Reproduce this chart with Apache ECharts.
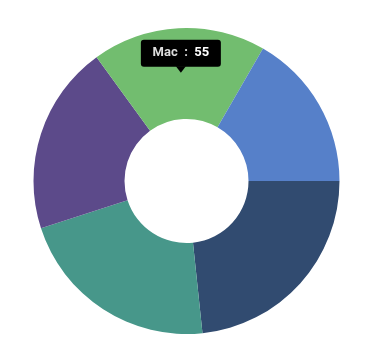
<!DOCTYPE html>
<html>
<head>
<meta charset="utf-8">
<script src="https://cdn.jsdelivr.net/npm/echarts@6/dist/echarts.min.js"></script>
<style>
html,body{margin:0;padding:0;background:#fff;}
#chart{width:369px;height:358px;}
</style>
</head>
<body>
<div id="chart"></div>
<script>
var categories = ['Windows', 'Linux', 'Android', 'Mac', 'iOS'];
var values = [70, 65, 60, 55, 50];
var colors = ['#314b70', '#47978a', '#5c4a8a', '#72bd6f', '#5680c9'];
var tooltipIndex = 3;
var center = [186.5, 181];
var radii = [62, 153];

var chart = echarts.init(document.getElementById('chart'), null, {renderer: 'canvas'});
var data = categories.map(function (c, i) {
  return {name: c, value: values[i], itemStyle: {color: colors[i]}};
});

// anchor of the tooltip: middle of the slice (start angle 0, clockwise)
var total = values.reduce(function (a, b) { return a + b; }, 0);
var before = 0;
for (var i = 0; i < tooltipIndex; i++) before += values[i];
var midAngle = (before + values[tooltipIndex] / 2) / total * 2 * Math.PI;
var rm = (radii[0] + radii[1]) / 2;
var ax = center[0] + rm * Math.cos(midAngle);
var ay = center[1] + rm * Math.sin(midAngle);

chart.setOption({
  animation: false,
  series: [{
    type: 'pie',
    z: 2,
    center: center,
    radius: radii,
    startAngle: 0,
    clockwise: true,
    label: {show: false},
    labelLine: {show: false},
    emphasis: {disabled: true},
    itemStyle: {borderWidth: 0},
    data: data
  }],
  graphic: {
    elements: [
      {type: 'rect', z: 100, x: ax, y: ay, shape: {x: -40, y: -34, width: 80, height: 27, r: 3}, style: {fill: '#000'}},
      {type: 'polygon', z: 100, x: ax, y: ay, shape: {points: [[-5, -7.5], [5, -7.5], [0, -1]]}, style: {fill: '#000'}},
      {type: 'text', z: 101, x: ax, y: ay - 20.5, style: {
        text: '{a|Mac}{b|  :  }{c|' + values[tooltipIndex] + '}',
        align: 'center', verticalAlign: 'middle',
        rich: {
          a: {fill: '#dedede', fontFamily: 'Roboto', fontSize: 13, fontWeight: 'bold'},
          b: {fill: '#dedede', fontFamily: 'Roboto', fontSize: 13, fontWeight: 'bold'},
          c: {fill: '#ffffff', fontFamily: 'Roboto', fontSize: 13, fontWeight: 'bold'}
        }
      }}
    ]
  }
});
</script>
</body>
</html>
